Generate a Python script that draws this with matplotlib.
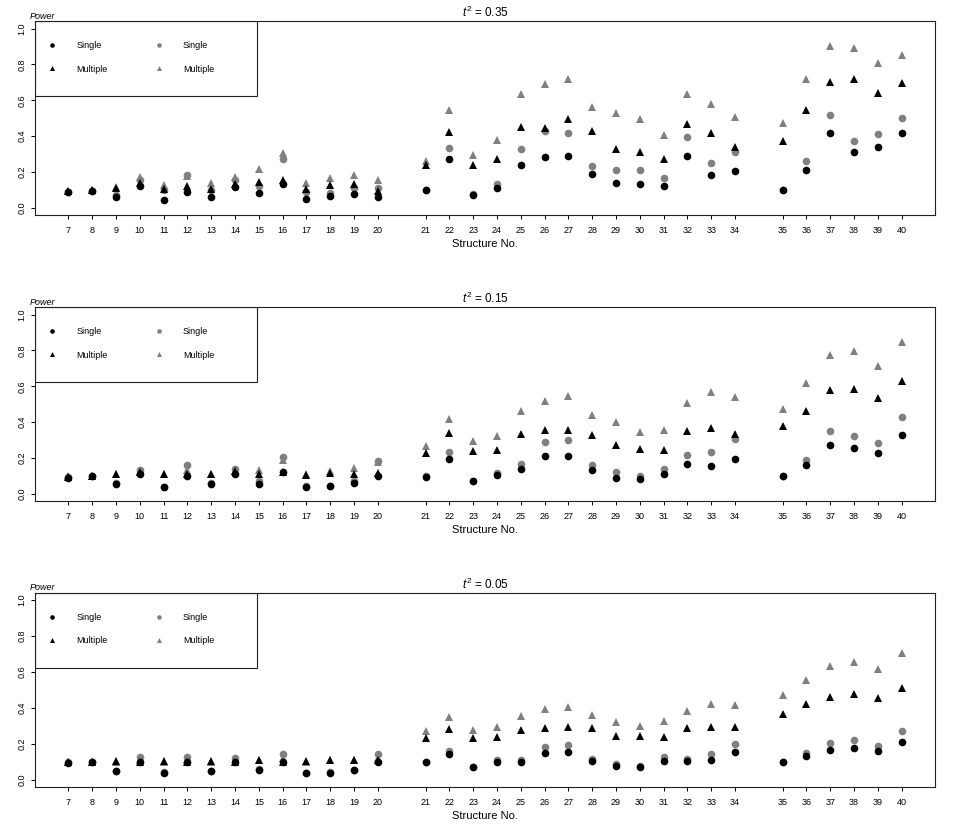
import matplotlib
matplotlib.use('Agg')
import matplotlib.pyplot as plt
from matplotlib import font_manager
from matplotlib.patches import Rectangle
import numpy as np

nombres = {f.name for f in font_manager.fontManager.ttflist}
fuente = 'Liberation Sans Narrow' if 'Liberation Sans Narrow' in nombres else 'Liberation Sans'
plt.rcParams['font.family'] = [fuente, 'DejaVu Sans']
plt.rcParams['mathtext.fontset'] = 'custom'
plt.rcParams['mathtext.it'] = fuente + ':italic'
plt.rcParams['mathtext.rm'] = fuente

estructuras = list(range(7, 41))
titulos = ['0.35', '0.15', '0.05']

# t^2 = 0.35
bc35 = [0.089, 0.097, 0.061, 0.121, 0.043, 0.089, 0.060, 0.117, 0.084, 0.136, 0.050, 0.065, 0.078, 0.061,
        0.099, 0.274, 0.074, 0.110, 0.238, 0.285, 0.287, 0.190, 0.138, 0.136, 0.121, 0.290, 0.184, 0.203,
        0.099, 0.212, 0.415, 0.313, 0.341, 0.415]
bt35 = [0.095, 0.100, 0.110, 0.140, 0.106, 0.120, 0.106, 0.136, 0.147, 0.158, 0.106, 0.125, 0.136, 0.093,
        0.238, 0.423, 0.242, 0.274, 0.451, 0.443, 0.493, 0.428, 0.330, 0.309, 0.274, 0.469, 0.419, 0.337,
        0.372, 0.547, 0.702, 0.717, 0.639, 0.698]
gc35 = [0.090, 0.097, 0.070, 0.155, 0.100, 0.186, 0.100, 0.153, 0.120, 0.274, 0.090, 0.085, 0.110, 0.110,
        0.100, 0.333, 0.075, 0.134, 0.331, 0.428, 0.417, 0.235, 0.214, 0.212, 0.169, 0.393, 0.251, 0.311,
        0.100, 0.259, 0.516, 0.371, 0.412, 0.499]
gt35 = [0.095, 0.100, 0.115, 0.171, 0.130, 0.180, 0.140, 0.170, 0.218, 0.307, 0.138, 0.168, 0.186, 0.158,
        0.264, 0.547, 0.296, 0.378, 0.637, 0.689, 0.717, 0.564, 0.531, 0.497, 0.404, 0.637, 0.581, 0.505,
        0.471, 0.717, 0.903, 0.894, 0.810, 0.851]

# t^2 = 0.15
bc15 = [0.091, 0.102, 0.054, 0.112, 0.037, 0.102, 0.054, 0.112, 0.056, 0.121, 0.037, 0.041, 0.060, 0.100,
        0.095, 0.196, 0.069, 0.104, 0.138, 0.209, 0.209, 0.132, 0.091, 0.084, 0.108, 0.164, 0.155, 0.196,
        0.099, 0.162, 0.270, 0.253, 0.229, 0.330]
bt15 = [0.095, 0.100, 0.110, 0.120, 0.108, 0.110, 0.110, 0.125, 0.110, 0.120, 0.106, 0.115, 0.110, 0.115,
        0.225, 0.341, 0.238, 0.246, 0.331, 0.356, 0.356, 0.330, 0.272, 0.250, 0.246, 0.348, 0.367, 0.335,
        0.378, 0.460, 0.577, 0.585, 0.534, 0.628]
gc15 = [0.095, 0.100, 0.060, 0.134, 0.040, 0.158, 0.060, 0.140, 0.070, 0.205, 0.045, 0.045, 0.070, 0.181,
        0.100, 0.231, 0.070, 0.115, 0.168, 0.287, 0.302, 0.158, 0.123, 0.100, 0.138, 0.214, 0.231, 0.305,
        0.100, 0.190, 0.348, 0.324, 0.283, 0.428]
gt15 = [0.100, 0.100, 0.110, 0.130, 0.110, 0.135, 0.110, 0.130, 0.134, 0.190, 0.110, 0.125, 0.143, 0.180,
        0.268, 0.419, 0.292, 0.322, 0.460, 0.516, 0.547, 0.439, 0.399, 0.345, 0.354, 0.505, 0.568, 0.538,
        0.475, 0.616, 0.775, 0.799, 0.715, 0.847]

# t^2 = 0.05
bc05 = [0.091, 0.099, 0.048, 0.100, 0.035, 0.100, 0.050, 0.097, 0.052, 0.100, 0.034, 0.035, 0.052, 0.100,
        0.095, 0.145, 0.067, 0.099, 0.099, 0.147, 0.151, 0.104, 0.073, 0.069, 0.104, 0.104, 0.106, 0.151,
        0.097, 0.130, 0.166, 0.173, 0.160, 0.210]
bt05 = [0.100, 0.100, 0.104, 0.100, 0.104, 0.100, 0.104, 0.100, 0.108, 0.100, 0.102, 0.110, 0.108, 0.110,
        0.229, 0.281, 0.231, 0.236, 0.277, 0.289, 0.294, 0.285, 0.242, 0.240, 0.238, 0.285, 0.294, 0.291,
        0.363, 0.421, 0.462, 0.479, 0.454, 0.508]
gc05 = [0.095, 0.100, 0.050, 0.123, 0.040, 0.128, 0.050, 0.121, 0.060, 0.145, 0.035, 0.040, 0.055, 0.143,
        0.100, 0.160, 0.070, 0.106, 0.106, 0.182, 0.194, 0.112, 0.084, 0.075, 0.123, 0.117, 0.143, 0.199,
        0.100, 0.147, 0.203, 0.220, 0.186, 0.268]
gt05 = [0.100, 0.100, 0.100, 0.110, 0.100, 0.110, 0.100, 0.100, 0.110, 0.120, 0.100, 0.110, 0.110, 0.120,
        0.270, 0.350, 0.276, 0.294, 0.354, 0.391, 0.406, 0.358, 0.318, 0.298, 0.324, 0.380, 0.421, 0.413,
        0.473, 0.553, 0.631, 0.654, 0.618, 0.706]

paneles = [(bc35, bt35, gc35, gt35), (bc15, bt15, gc15, gt15), (bc05, bt05, gc05, gt05)]

# huecos entre grupos 7-20, 21-34, 35-40
est = np.array(estructuras)
pos = est - 6 + (est >= 21) + (est >= 35)

gris = '#808080'
fig = plt.figure(figsize=(9.6, 8.24), dpi=100)
abajos = [0.739, 0.392, 0.0453]

for k in range(3):
    bc, bt, gc, gt = paneles[k]
    ax = fig.add_axes([0.0365, abajos[k], 0.9375, 0.235])
    h_gt, = ax.plot(pos, gt, '^', color=gris, ms=6, mew=0, zorder=2)
    h_gc, = ax.plot(pos, gc, 'o', color=gris, ms=5.5, mew=0, zorder=3)
    h_bt, = ax.plot(pos, bt, '^', color='black', ms=6, mew=0, zorder=4)
    h_bc, = ax.plot(pos, bc, 'o', color='black', ms=5.5, mew=0, zorder=5)

    ax.set_xlim(-0.4, 37.4)
    ax.set_ylim(-0.04, 1.04)
    ax.set_xticks(pos)
    ax.set_xticklabels([str(e) for e in estructuras])
    ax.set_yticks([0, 0.2, 0.4, 0.6, 0.8, 1.0])
    ax.set_yticklabels(['0.0', '0.2', '0.4', '0.6', '0.8', '1.0'], rotation=90, va='center')
    ax.tick_params(axis='x', length=3, width=0.7, pad=5, labelsize=6.5)
    ax.tick_params(axis='y', length=3, width=0.7, pad=3, labelsize=6.5)
    for s in ax.spines.values():
        s.set_linewidth(0.8)
        s.set_color('#222222')

    ax.set_title('$t^2$ = ' + titulos[k], fontsize=8.5, pad=3)
    ax.set_xlabel('Structure No.', fontsize=8, labelpad=3)
    ax.text(-0.0056, 1.004, 'Power', transform=ax.transAxes, ha='left', va='bottom',
            style='italic', fontsize=6.5)

    # caja de la leyenda
    ax.add_patch(Rectangle((0, 0.613), 0.2463, 0.387, transform=ax.transAxes, fill=False,
                           edgecolor='#222222', linewidth=0.8, zorder=6))
    opts = dict(frameon=False, fontsize=6.5, markerscale=0.6, handlelength=0.8,
                handletextpad=2.3, labelspacing=1.6, borderpad=0, borderaxespad=0, loc='upper left')
    ley1 = ax.legend([h_bc, h_bt], ['Single', 'Multiple'], bbox_to_anchor=(0.0146, 0.898), **opts)
    ax.add_artist(ley1)
    ax.legend([h_gc, h_gt], ['Single', 'Multiple'], bbox_to_anchor=(0.1332, 0.898), **opts)

fig.savefig('out.png', dpi=100)
